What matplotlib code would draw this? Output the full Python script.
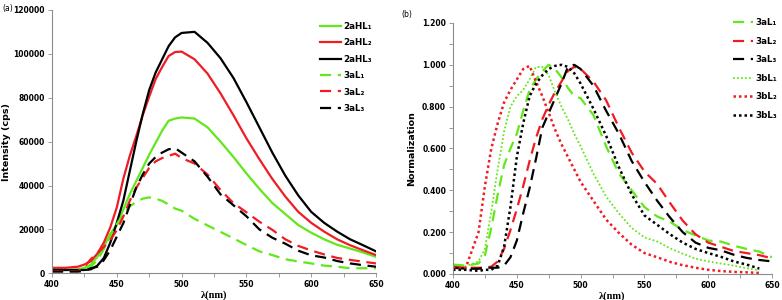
import numpy as np
import matplotlib
matplotlib.use("Agg")
import matplotlib.pyplot as plt
from matplotlib.ticker import MultipleLocator, FormatStrFormatter

# ---------------- data ----------------
wl = [400, 410, 420, 425, 430, 435, 440, 445, 450, 455, 460, 465, 470, 475, 480, 485,
      490, 495, 500, 510, 520, 530, 540, 550, 560, 570, 580, 590, 600, 610, 620, 630, 640, 650]

# panel (a): intensity (cps)
a_2aHL1 = [1500, 1500, 1800, 2500, 4000, 7500, 12000, 18000, 22000, 29000, 36000, 42000, 48000, 54000, 59500, 65000,
           69500, 70500, 71000, 70500, 66500, 60000, 53000, 45500, 38500, 32000, 27000, 22000, 18500, 15500, 13000, 11300, 9500, 7500]
a_2aHL2 = [2500, 2500, 3000, 4000, 5500, 9000, 14000, 21000, 30000, 43000, 53500, 62500, 72000, 80500, 88500, 94000,
           99000, 100800, 101000, 97500, 91000, 82000, 72000, 61500, 52000, 43000, 35000, 28000, 23000, 19000, 15500, 12800, 10500, 8300]
a_2aHL3 = [1500, 1500, 1500, 1500, 1800, 3500, 7000, 14000, 23000, 33000, 46500, 60000, 72500, 83500, 91500, 97500,
           103500, 107500, 109500, 110000, 105000, 98000, 89000, 78000, 66500, 55000, 44500, 35500, 28000, 23000, 19000, 15500, 12800, 10000]
a_3aL1 = [1000, 1000, 1000, 1500, 3000, 6000, 11000, 17000, 22500, 27000, 30500, 32500, 34000, 34600, 34000, 33000,
          31300, 29500, 28500, 24800, 21800, 18900, 15900, 12900, 10000, 8300, 6400, 5400, 4500, 3500, 3000, 2300, 2300, 2300]
a_3aL2 = [1000, 1000, 1000, 3000, 6500, 9000, 12000, 15200, 19700, 25800, 33000, 39000, 43500, 48000, 51000, 52500,
          53500, 54500, 52500, 50000, 45000, 38000, 32000, 27800, 23500, 19800, 15500, 12500, 10400, 8600, 7000, 6100, 5300, 4500]
a_3aL3 = [800, 800, 800, 1000, 2300, 3000, 6000, 10600, 16700, 22800, 31000, 39000, 45000, 50000, 53000, 55000,
          56500, 57000, 55000, 51000, 44000, 36000, 31000, 26000, 20000, 16200, 13500, 10300, 8200, 7200, 5600, 4500, 3700, 3000]

# panel (b): normalized
b_3aL1 = [0.045, 0.04, 0.05, 0.09, 0.22, 0.38, 0.52, 0.60, 0.67, 0.78, 0.88, 0.93, 0.97, 1.0, 0.98, 0.94,
          0.89, 0.85, 0.84, 0.76, 0.61, 0.48, 0.40, 0.32, 0.275, 0.25, 0.21, 0.185, 0.16, 0.155, 0.135, 0.12, 0.107, 0.08]
b_3aL2 = [0.035, 0.03, 0.03, 0.03, 0.035, 0.06, 0.12, 0.21, 0.31, 0.42, 0.54, 0.65, 0.74, 0.81, 0.87, 0.92,
          0.97, 0.99, 0.98, 0.92, 0.83, 0.70, 0.58, 0.49, 0.43, 0.34, 0.255, 0.19, 0.15, 0.13, 0.11, 0.10, 0.09, 0.075]
b_3aL3 = [0.03, 0.025, 0.025, 0.03, 0.03, 0.03, 0.04, 0.08, 0.16, 0.29, 0.41, 0.55, 0.70, 0.77, 0.84, 0.91,
          0.99, 1.0, 0.98, 0.90, 0.78, 0.67, 0.54, 0.44, 0.35, 0.27, 0.20, 0.15, 0.125, 0.113, 0.092, 0.077, 0.067, 0.06]
b_3bL1 = [0.045, 0.037, 0.06, 0.12, 0.30, 0.50, 0.68, 0.80, 0.85, 0.88, 0.93, 0.99, 0.99, 0.95, 0.87, 0.80,
          0.74, 0.67, 0.61, 0.48, 0.37, 0.29, 0.22, 0.175, 0.155, 0.123, 0.097, 0.073, 0.06, 0.05, 0.04, 0.028, 0.018, np.nan]
b_3bL2 = [0.03, 0.03, 0.20, 0.42, 0.60, 0.72, 0.82, 0.88, 0.93, 0.98, 0.995, 0.92, 0.85, 0.77, 0.69, 0.62,
          0.56, 0.50, 0.44, 0.35, 0.26, 0.196, 0.14, 0.10, 0.08, 0.058, 0.042, 0.03, 0.02, 0.014, 0.01, 0.008, 0.005, np.nan]
b_3bL3 = [0.02, 0.02, 0.015, 0.02, 0.02, 0.04, 0.13, 0.32, 0.56, 0.72, 0.85, 0.91, 0.95, 0.98, 0.995, 1.0,
          0.99, 0.96, 0.91, 0.79, 0.66, 0.51, 0.38, 0.28, 0.235, 0.19, 0.15, 0.12, 0.10, 0.082, 0.06, 0.045, 0.026, np.nan]

labels_a = ["2aHL\u2081", "2aHL\u2082", "2aHL\u2083", "3aL\u2081", "3aL\u2082", "3aL\u2083"]
labels_b = ["3aL\u2081", "3aL\u2082", "3aL\u2083", "3bL\u2081", "3bL\u2082", "3bL\u2083"]

GREEN = "#62e81a"
RED = "#f01c24"
BLACK = "#000000"

# ---------------- figure ----------------
fig = plt.figure(figsize=(7.82, 3.0), dpi=100)
plt.rcParams['font.family'] = ['DejaVu Sans']

ax1 = fig.add_axes([0.0665, 0.089, 0.4143, 0.878])
ax2 = fig.add_axes([0.5793, 0.0867, 0.408, 0.8367])

lw = 1.6
dash_a = (0, (5, 3))
series_a = [a_2aHL1, a_2aHL2, a_2aHL3, a_3aL1, a_3aL2, a_3aL3]
colors = [GREEN, RED, BLACK, GREEN, RED, BLACK]
styles_a = ['-', '-', '-', dash_a, dash_a, dash_a]
for ys, c, s, lab in zip(series_a, colors, styles_a, labels_a):
    ax1.plot(wl, ys, color=c, linestyle=s, lw=lw, label=lab)

dash_b = (0, (5, 3))
dot_b = (0, (1, 1.2))
series_b = [b_3aL1, b_3aL2, b_3aL3, b_3bL1, b_3bL2, b_3bL3]
styles_b = [dash_b, dash_b, dash_b, dot_b, dot_b, dot_b]
lws_b = [1.6, 1.6, 1.6, 1.3, 1.8, 1.8]
for ys, c, s, l, lab in zip(series_b, colors, styles_b, lws_b, labels_b):
    ax2.plot(wl, ys, color=c, linestyle=s, lw=l, label=lab)

for ax in (ax1, ax2):
    for sp in ('top', 'right'):
        ax.spines[sp].set_visible(False)
    for sp in ('left', 'bottom'):
        ax.spines[sp].set_color('#8c8c8c')
        ax.spines[sp].set_linewidth(0.8)
    ax.set_xlim(400, 650)
    ax.xaxis.set_major_locator(MultipleLocator(50))
    ax.xaxis.set_minor_locator(MultipleLocator(25))
    ax.tick_params(axis='both', which='both', direction='out', color='#8c8c8c',
                   width=0.6, pad=2)
    ax.tick_params(axis='both', which='major', length=3)
    ax.tick_params(axis='both', which='minor', length=3)
    ax.set_xlabel("\u03bb(nm)", fontsize=7.5, fontweight='bold', family='Liberation Serif', labelpad=1)

ax1.set_ylim(0, 120000)
ax1.yaxis.set_major_locator(MultipleLocator(20000))
ax1.set_ylabel("Intensity (cps)", fontsize=6.8, fontweight='bold')
ax1.yaxis.set_label_coords(-0.128, 0.5)

ax2.set_ylim(0, 1.2)
ax2.yaxis.set_major_locator(MultipleLocator(0.2))
ax2.yaxis.set_minor_locator(MultipleLocator(0.1))
ax2.yaxis.set_major_formatter(FormatStrFormatter('%.3f'))
ax2.set_ylabel("Normalization", fontsize=6.8, fontweight='bold')
ax2.yaxis.set_label_coords(-0.115, 0.5)

for ax in (ax1, ax2):
    for t in ax.get_xticklabels() + ax.get_yticklabels():
        t.set_fontsize(5.5)
        t.set_fontweight('bold')

leg1 = ax1.legend(loc='upper left', bbox_to_anchor=(0.827, 0.955), frameon=False,
                  prop=dict(size=6.3, weight='bold'), handlelength=2.4, handletextpad=0.25,
                  labelspacing=0.85, borderaxespad=0, borderpad=0)
leg2 = ax2.legend(loc='upper left', bbox_to_anchor=(0.878, 1.02), frameon=False,
                  prop=dict(size=6.3, weight='bold'), handlelength=2.3, handletextpad=0.25,
                  labelspacing=1.1, borderaxespad=0, borderpad=0)

fig.text(0.003, 0.985, "(a)", fontsize=5.5, va='top', ha='left')
fig.text(0.513, 0.965, "(b)", fontsize=5.5, va='top', ha='left')

fig.savefig("out.png", dpi=100)
